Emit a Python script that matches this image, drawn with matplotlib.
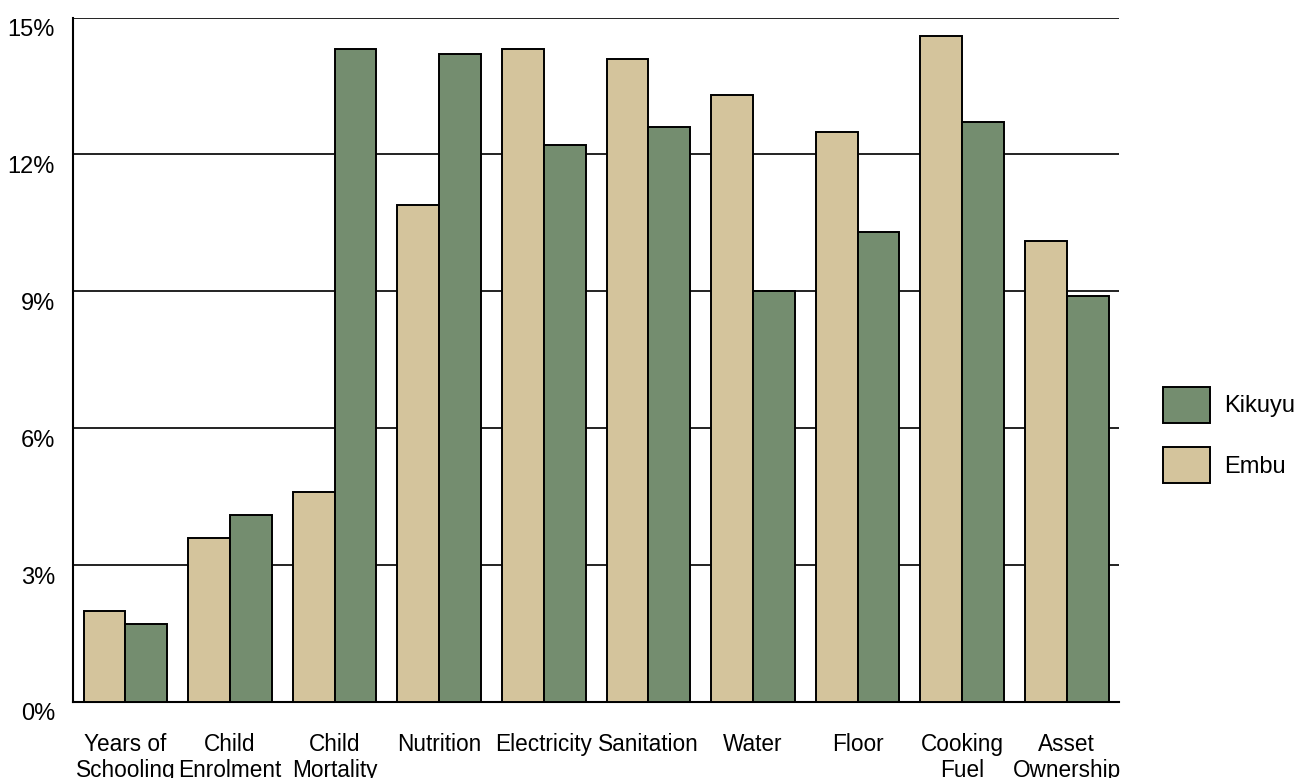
"""
Embu vs Kikuyu deprivation contributions by indicator (grouped bars).
"""

import numpy as np
import matplotlib
matplotlib.use("Agg")
import matplotlib.pyplot as plt
import matplotlib.transforms as mtransforms
from matplotlib.patches import Patch

plt.rcParams["font.family"] = ["Liberation Sans", "DejaVu Sans"]

categories = ["Years of\nSchooling", "Child\nEnrolment", "Child\nMortality",
              "Nutrition", "Electricity", "Sanitation", "Water", "Floor",
              "Cooking\nFuel", "Asset\nOwnership"]
embu   = [2.0, 3.6, 4.6, 10.9, 14.3, 14.1, 13.3, 12.5, 14.6, 10.1]
kikuyu = [1.7, 4.1, 14.3, 14.2, 12.2, 12.6, 9.0, 10.3, 12.7, 8.9]
yticks = [0, 3, 6, 9, 12, 15]

EMBU_COL   = "#d4c49c"
KIKUYU_COL = "#748d6f"
FS = 17
XFS = 16.3

fig = plt.figure(figsize=(13, 7.78), dpi=100)
ax = fig.add_axes([0.0562, 0.0977, 0.8046, 0.8798])

x = np.arange(len(categories))
w = 0.4
ax.bar(x - w / 2, embu,   w, color=EMBU_COL,   edgecolor="black", linewidth=1.4, zorder=3)
ax.bar(x + w / 2, kikuyu, w, color=KIKUYU_COL, edgecolor="black", linewidth=1.4, zorder=3)

ax.set_xlim(-0.5, len(categories) - 0.5)
ax.set_ylim(0, 15)
ax.set_yticks(yticks)
ax.set_yticklabels([f"{t}%" for t in yticks], fontsize=FS)
ax.set_xticks(x)
ax.set_xticklabels(categories, fontsize=XFS, linespacing=1.2)
ax.tick_params(axis="both", length=0)
ax.tick_params(axis="x", pad=22)
ax.tick_params(axis="y", pad=13)

# y labels sit a little below their gridlines
offset = mtransforms.ScaledTranslation(0, -10 / 100, fig.dpi_scale_trans)
for lab in ax.get_yticklabels():
    lab.set_transform(lab.get_transform() + offset)

for t in yticks[1:]:
    ax.axhline(t, color="#222222", linewidth=1.4, zorder=1)

for s in ["top", "right"]:
    ax.spines[s].set_visible(False)
ax.spines["left"].set_linewidth(1.5)
ax.spines["bottom"].set_linewidth(1.5)

handles = [Patch(facecolor=KIKUYU_COL, edgecolor="black", linewidth=1.4, label="Kikuyu"),
           Patch(facecolor=EMBU_COL,   edgecolor="black", linewidth=1.4, label="Embu")]
fig.legend(handles=handles, loc="center left", bbox_to_anchor=(0.8946, 0.4409),
           frameon=False, fontsize=FS, handlelength=2.0, handleheight=2.0,
           labelspacing=1.0, handletextpad=0.6, borderpad=0, borderaxespad=0)

fig.savefig("out.png", dpi=100)
